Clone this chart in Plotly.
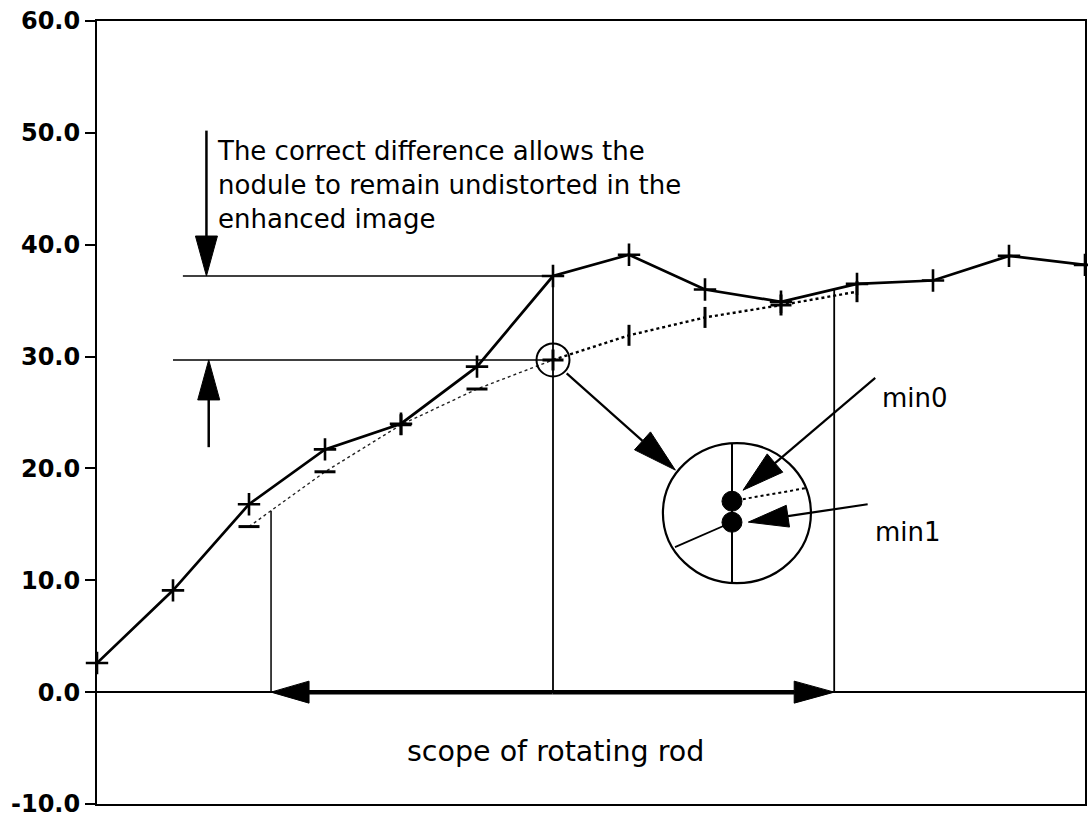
import numpy as np
import plotly.graph_objects as go

# ---- data -----------------------------------------------------------------
steps = list(range(14))
profile_min1 = [2.6, 9.1, 16.8, 21.7, 24.0, 29.1, 37.2, 39.1, 36.0, 34.9, 36.5, 36.8, 39.0, 38.2]

rod_steps = list(range(2, 11))
profile_min0 = [14.8, 19.7, 23.9, 27.1, 29.7, 31.9, 33.5, 34.6, 35.8]
min0_symbols = ["line-ew", "line-ew", "cross-thin", "line-ew", "cross-thin",
                "line-ns", "line-ns", "cross-thin", "line-ns"]

y_tick_vals = [-10, 0, 10, 20, 30, 40, 50, 60]
y_tick_text = ["-10.0", "0.0", "10.0", "20.0", "30.0", "40.0", "50.0", "60.0"]

rod_start, rod_end = 2.29, 9.70     # extent of the rotating rod (step units)
peak_step = 6                       # step where the two minima are compared

# ---- canvas geometry --------------------------------------------------------
W, H = 1088, 817
M_L, M_R, M_T, M_B = 97, 3, 21, 13
X_RANGE = [0, 13]
Y_RANGE = [-10, 60]
PX_X = (W - M_L - M_R) / (X_RANGE[1] - X_RANGE[0])
PX_Y = (H - M_T - M_B) / (Y_RANGE[1] - Y_RANGE[0])

FONT = "DejaVu Sans"
INK = "black"

shapes = []


def line(x0, y0, x1, y1, width=1.5, dash="solid"):
    shapes.append(dict(type="line", xref="x", yref="y", x0=x0, y0=y0, x1=x1, y1=y1,
                       line=dict(color=INK, width=width, dash=dash)))


def arrow(x0, y0, x1, y1, width=2, head_len=40, head_w=22):
    """Shaft from (x0, y0) with a filled triangular head pointing at (x1, y1)."""
    dx, dy = (x1 - x0) * PX_X, (y1 - y0) * PX_Y
    n = np.hypot(dx, dy)
    ux, uy = dx / n, dy / n
    bx, by = x1 - ux * head_len / PX_X, y1 - uy * head_len / PX_Y
    px, py = -uy, ux
    c1 = (bx + px * head_w / 2 / PX_X, by + py * head_w / 2 / PX_Y)
    c2 = (bx - px * head_w / 2 / PX_X, by - py * head_w / 2 / PX_Y)
    line(x0, y0, bx, by, width=width)
    shapes.append(dict(type="path", xref="x", yref="y",
                       path=f"M {x1},{y1} L {c1[0]},{c1[1]} L {c2[0]},{c2[1]} Z",
                       fillcolor=INK, line=dict(color=INK, width=1)))


def ellipse(cx, cy, r_px, width=2, fill=None, ry_px=None):
    ry_px = r_px if ry_px is None else ry_px
    shapes.append(dict(type="circle", xref="x", yref="y",
                       x0=cx - r_px / PX_X, x1=cx + r_px / PX_X,
                       y0=cy - ry_px / PX_Y, y1=cy + ry_px / PX_Y,
                       fillcolor=fill if fill else "rgba(0,0,0,0)",
                       line=dict(color=INK, width=width)))


# ---- figure -----------------------------------------------------------------
fig = go.Figure()

# min0 profile: thin dotted up to the compared step, heavier dotted after it
k = rod_steps.index(peak_step)
fig.add_trace(go.Scatter(x=rod_steps[:k + 1], y=profile_min0[:k + 1], mode="lines",
                         line=dict(color="#222", width=1.4, dash="dot"),
                         hoverinfo="skip", showlegend=False))
fig.add_trace(go.Scatter(x=rod_steps[k:], y=profile_min0[k:], mode="lines",
                         line=dict(color=INK, width=2.4, dash="dot"),
                         hoverinfo="skip", showlegend=False))
fig.add_trace(go.Scatter(x=rod_steps, y=profile_min0, mode="markers",
                         marker=dict(symbol=min0_symbols, size=15,
                                     line=dict(color=INK, width=3)),
                         hoverinfo="skip", showlegend=False, cliponaxis=False))

# min1 profile: solid line with + markers
fig.add_trace(go.Scatter(x=steps, y=profile_min1, mode="lines+markers",
                         line=dict(color=INK, width=2.7),
                         marker=dict(symbol="cross-thin", size=16,
                                     line=dict(color=INK, width=2.6)),
                         hoverinfo="skip", showlegend=False, cliponaxis=False))

top_val = profile_min1[steps.index(peak_step)]
low_val = profile_min0[rod_steps.index(peak_step)]

# reference levels and the difference arrows
line(1.13, top_val, peak_step, top_val)
line(1.00, low_val, peak_step, low_val)
arrow(1.44, 50.2, 1.44, top_val, width=2.5)
arrow(1.47, 21.9, 1.47, low_val, width=2.5)

# vertical markers of the rod extent and the compared step
line(peak_step, 0, peak_step, top_val, width=1.8)
line(rod_start, 0, rod_start, float(np.interp(rod_start, rod_steps, profile_min0)), width=1.5)
line(rod_end, 0, rod_end, float(np.interp(rod_end, steps, profile_min1)), width=1.8)

# double-headed arrow along the zero line
mid = (rod_start + rod_end) / 2
arrow(mid, 0, rod_start, 0, width=4.5, head_len=38, head_w=22)
arrow(mid, 0, rod_end, 0, width=4.5, head_len=40, head_w=22)

# magnified view of the compared step
ellipse(peak_step, low_val, 16.5, width=2)
zoom_cx, zoom_cy = 8.42, 16.0
arrow(6.18, 28.5, 7.61, 19.85, width=2.2, head_len=44, head_w=24)
ellipse(zoom_cx, zoom_cy, 74, width=2.2, ry_px=70)
dot_x = 8.355
line(dot_x, 22.25, dot_x, 9.74, width=2)
line(7.605, 12.96, dot_x, 15.19, width=1.8)
line(8.42, 17.16, 9.32, 18.23, width=2, dash="dot")
ellipse(dot_x, 17.07, 10, width=1, fill=INK)
ellipse(dot_x, 15.19, 10, width=1, fill=INK)

# pointers to the two minima
arrow(10.24, 28.1, 8.50, 18.05, width=2.2, head_len=42, head_w=24)
arrow(10.14, 16.8, 8.57, 15.2, width=2.2, head_len=40, head_w=22)

annotations = [
    dict(x=1.55, y=49.9, xref="x", yref="y", xanchor="left", yanchor="top", align="left",
         showarrow=False,
         text="The correct difference allows the<br>nodule to remain undistorted in the<br>enhanced image",
         font=dict(family=FONT, size=26, color=INK)),
    dict(x=6.03, y=-5.3, xref="x", yref="y", xanchor="center", yanchor="middle",
         showarrow=False, text="scope of rotating rod",
         font=dict(family=FONT, size=28.5, color=INK)),
    dict(x=10.76, y=26.3, xref="x", yref="y", xanchor="center", yanchor="middle",
         showarrow=False, text="min0", font=dict(family=FONT, size=26, color=INK)),
    dict(x=10.67, y=14.3, xref="x", yref="y", xanchor="center", yanchor="middle",
         showarrow=False, text="min1", font=dict(family=FONT, size=26, color=INK)),
]

fig.update_layout(
    width=W, height=H,
    margin=dict(l=M_L, r=M_R, t=M_T, b=M_B, pad=0),
    paper_bgcolor="white", plot_bgcolor="white",
    shapes=shapes, annotations=annotations,
    font=dict(family=FONT, color=INK),
    xaxis=dict(range=X_RANGE, showgrid=False, zeroline=False, showticklabels=False,
               ticks="", showline=True, mirror=True, linecolor=INK, linewidth=2,
               automargin=False, fixedrange=True),
    yaxis=dict(range=Y_RANGE, tickvals=y_tick_vals, ticktext=y_tick_text,
               ticks="outside", ticklen=10, tickwidth=2, tickcolor=INK,
               tickfont=dict(family=FONT, size=24, color=INK, weight="bold"),
               ticklabeloverflow="allow",
               showgrid=False, showline=True, mirror=True, linecolor=INK, linewidth=2,
               zeroline=True, zerolinecolor=INK, zerolinewidth=1.8,
               automargin=False, fixedrange=True),
)

fig.write_html("out.html")
